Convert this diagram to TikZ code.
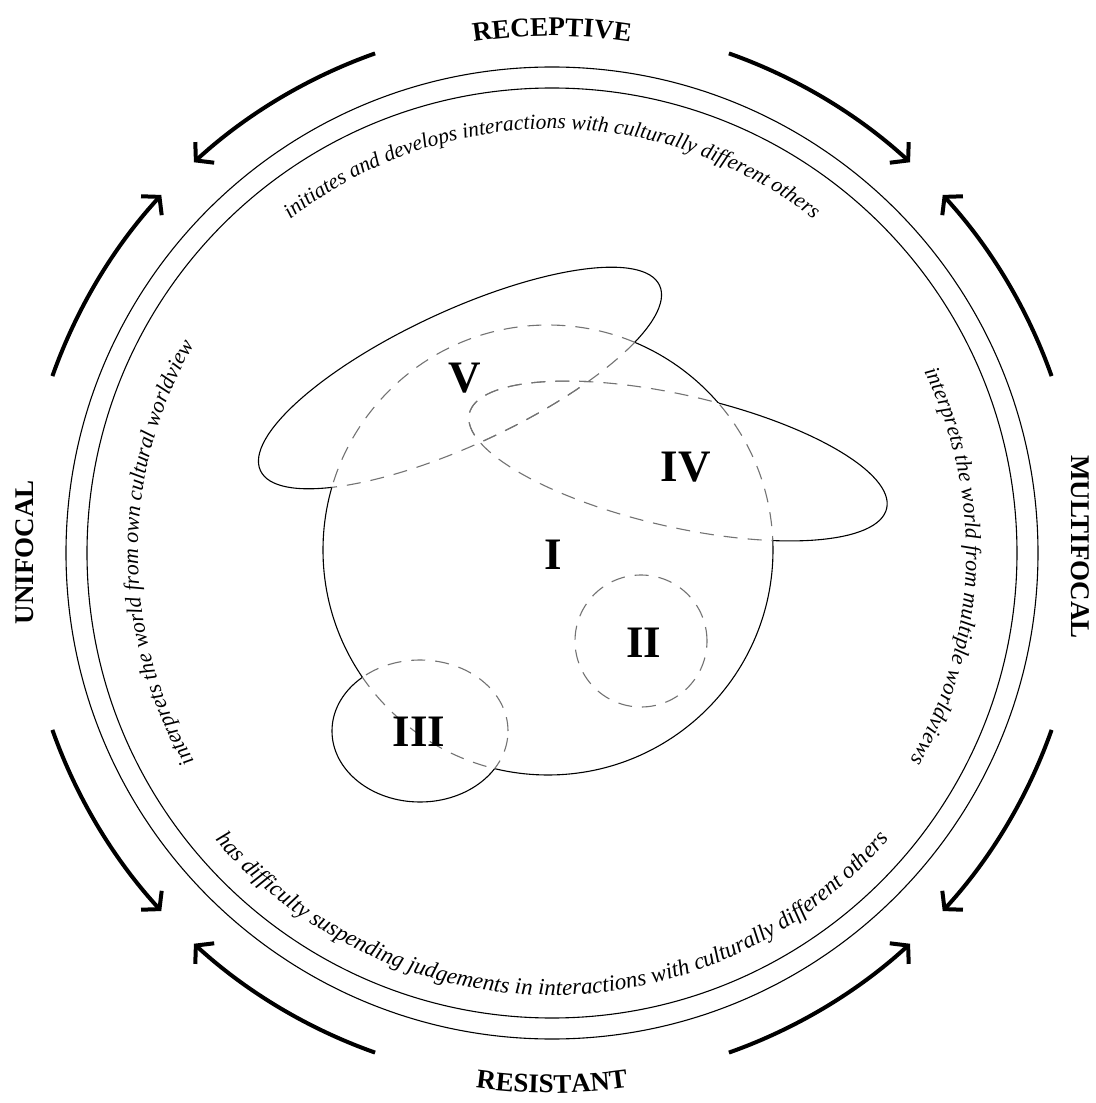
\documentclass[tikz,border=0pt]{standalone}
\usepackage{fontspec}
\newfontfamily\labfont{Liberation Serif}
\usetikzlibrary{arrows.meta,decorations.text}
\newcommand\shI{(-4,3) circle[radius=225]}
\newcommand\shII{(89,-88) circle[radius=66]}
\newcommand\shIII{(-132,-178) ellipse[x radius=88, y radius=71]}
\newcommand\shIV{(126,92) ellipse[x radius=214, y radius=66, rotate=-12.8]}
\newcommand\shV{(-92,175) ellipse[x radius=220, y radius=67, rotate=24.9]}
\newcommand\bigrect{(-600,-600) rectangle (600,600)}
\newcommand\solidpart[5]{\begin{scope}[even odd rule]\clip \bigrect #2;\clip \bigrect #3;\clip \bigrect #4;\clip \bigrect #5;\draw[solidline] #1;\end{scope}}
\newcommand\dashpart[2]{\begin{scope}\clip #2;\draw[dashline] #1;\end{scope}}
\newcommand\dashall[5]{\dashpart{#1}{#2}\dashpart{#1}{#3}\dashpart{#1}{#4}\dashpart{#1}{#5}}
\newcommand\ringfont{\labfont\itshape\fontsize{22}{22}\selectfont}
\begin{document}
\begin{tikzpicture}[x=1pt,y=1pt,
  ring/.style={line width=1.1pt, black},
  bigarrow/.style={line width=4pt, -{Straight Barb[length=12pt,width=28pt]}},
  solidline/.style={line width=1.1pt, black},
  dashline/.style={line width=1.1pt, black!55, dash pattern=on 14pt off 10pt},
  numlabel/.style={font=\labfont\bfseries\fontsize{45}{45}\selectfont, inner sep=0pt},
  axislabel/.style={font=\labfont\bfseries\fontsize{27}{27}\selectfont, inner sep=0pt}]
\useasboundingbox (-552,-550) rectangle (543,553);
\fill[white] (-552,-550) rectangle (543,553);
% rings
\draw[ring] (0,0) circle[radius=486];
\draw[ring] (0,0) circle[radius=465];
% arrows
\foreach \a/\b in {109.5/132.5, 70.5/47.5, 160.5/137.5, 199.5/222.5, 19.5/42.5, -19.5/-42.5, 250.5/227.5, 289.5/312.5}
  \draw[bigarrow] (\a:530) arc[start angle=\a, end angle=\b, radius=530];
% axis labels
\path[decorate, decoration={text along path, text align=center, text={|\labfont\bfseries\fontsize{27}{27}\selectfont|RECEPTIVE}}] (120:517) arc[start angle=120, end angle=60, radius=517];
\path[decorate, decoration={text along path, text align=center, text={|\labfont\bfseries\fontsize{27}{27}\selectfont|RESISTANT}}] (240:540) arc[start angle=240, end angle=300, radius=540];
\node[axislabel, rotate=90] (unifocal) at (-527,1) {UNIFOCAL};
\node[axislabel, rotate=-90] (multifocal) at (528,6) {MULTIFOCAL};
% ring texts
\path[decorate, decoration={text along path, text align=center, text={|\labfont\itshape\fontsize{21.5}{21.5}\selectfont|initiates and develops interactions with culturally different others}}] (150:424) arc[start angle=150, end angle=30, radius=424];
\path[decorate, decoration={text along path, text align=center, text={|\ringfont|interprets the world from own cultural worldview}}] (240:414) arc[start angle=240, end angle=120, radius=414];
\path[decorate, decoration={text along path, text align=center, text={|\ringfont|interprets the world from multiple worldviews}}] (58:414) arc[start angle=58, end angle=-62, radius=414];
\path[decorate, decoration={text along path, text align=center, text={|\labfont\itshape\fontsize{23}{23}\selectfont|has difficulty suspending judgements in interactions with culturally different others}}] (200:442) arc[start angle=200, end angle=340, radius=442];
% shapes: solid outside others
\solidpart{\shI}{\shII}{\shIII}{\shIV}{\shV}
\solidpart{\shII}{\shI}{\shIII}{\shIV}{\shV}
\solidpart{\shIII}{\shI}{\shII}{\shIV}{\shV}
\solidpart{\shIV}{\shI}{\shII}{\shIII}{\shV}
\solidpart{\shV}{\shI}{\shII}{\shIII}{\shIV}
% dashed inside others
\dashall{\shI}{\shII}{\shIII}{\shIV}{\shV}
\dashall{\shII}{\shI}{\shIII}{\shIV}{\shV}
\dashall{\shIII}{\shI}{\shII}{\shIV}{\shV}
\dashall{\shIV}{\shI}{\shII}{\shIII}{\shV}
\dashall{\shV}{\shI}{\shII}{\shIII}{\shIV}
% numerals
\node[numlabel] (lI) at (1,-2) {I};
\node[numlabel] (lII) at (92,-90) {II};
\node[numlabel] (lIII) at (-133,-179) {III};
\node[numlabel] (lIV) at (134,86) {IV};
\node[numlabel] (lV) at (-87,175) {V};
\end{tikzpicture}
\end{document}
